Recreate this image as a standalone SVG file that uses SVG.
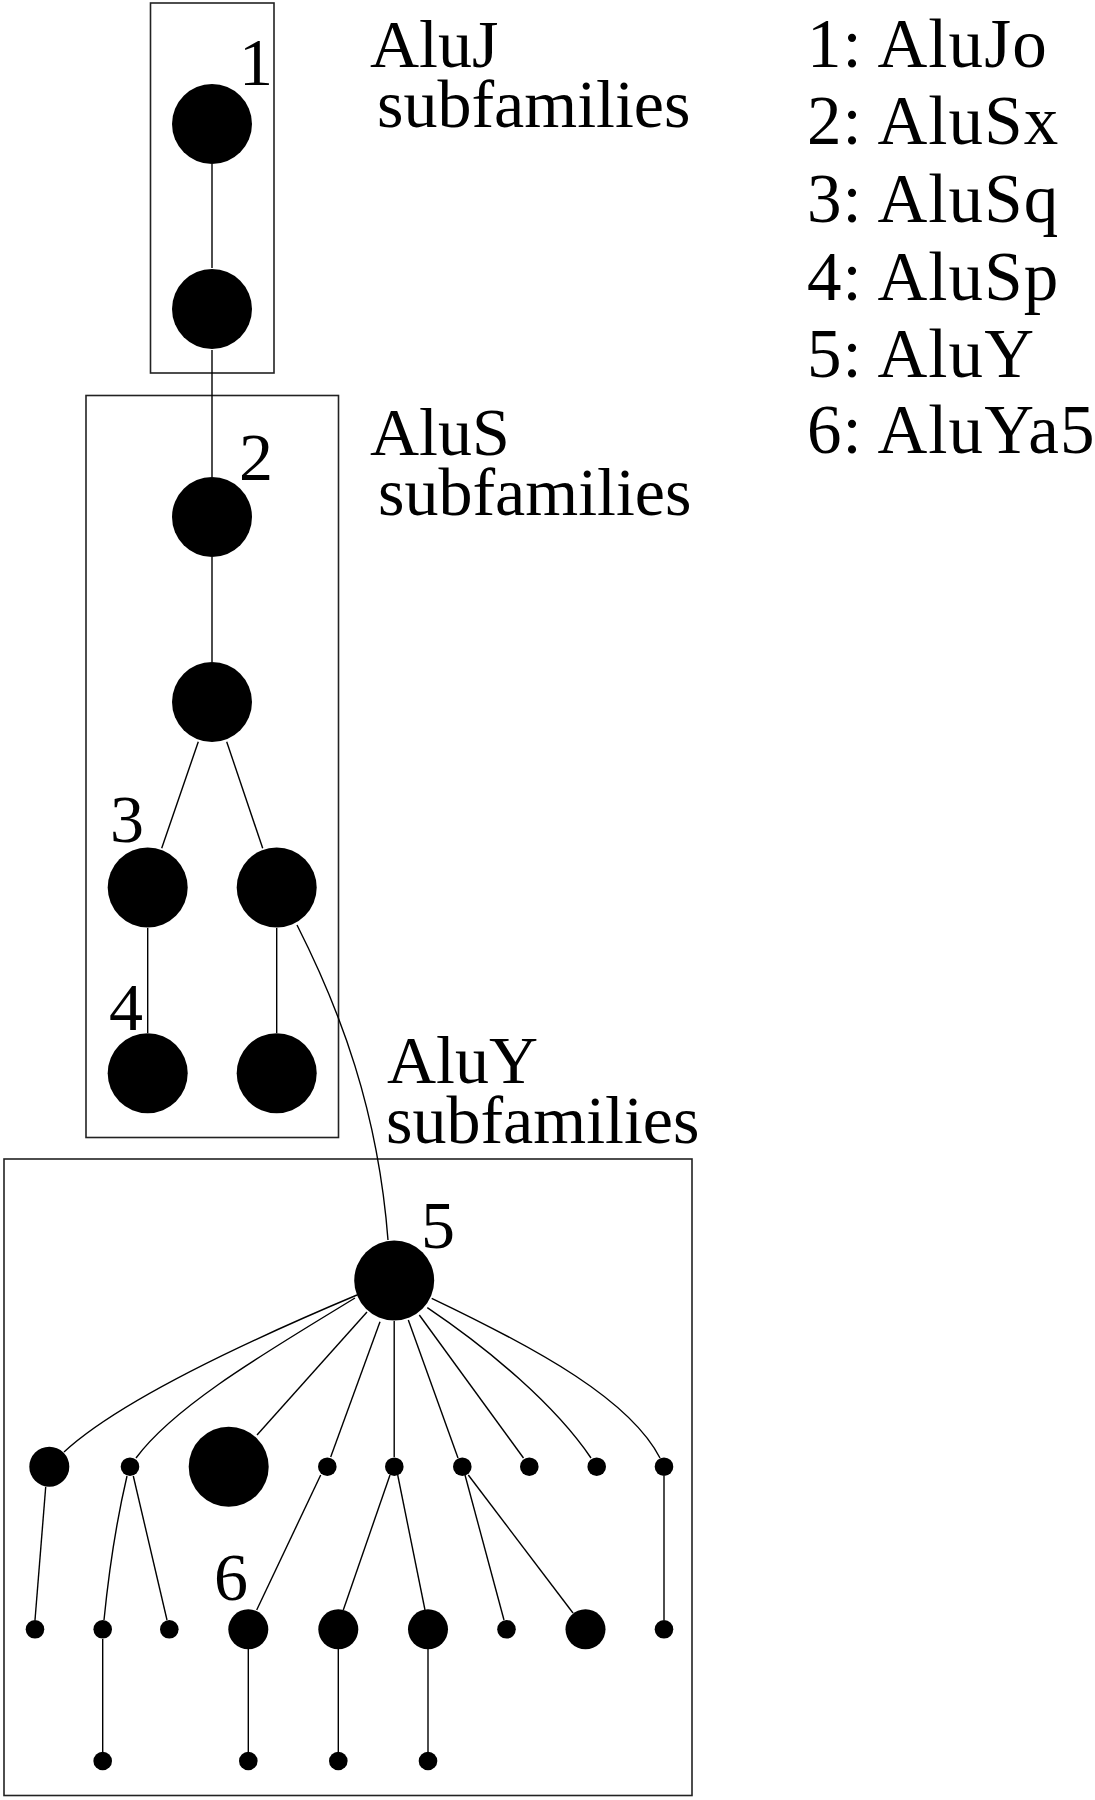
<svg xmlns="http://www.w3.org/2000/svg" width="1095" height="1800" viewBox="0 0 1095 1800">
<style>
.bg{fill:#fff}
.box{fill:none;stroke:#222;stroke-width:1.6}
.e{fill:none;stroke:#000;stroke-width:1.4}
.n{fill:#000}
.t{font-family:"Liberation Serif","Times New Roman",serif;font-size:68px;fill:#000}
.lg{font-family:"Liberation Serif","Times New Roman",serif;font-size:69px;letter-spacing:1.1px;fill:#000}
</style>
<rect class="bg" x="0" y="0" width="1095" height="1800"/>
<g id="clusters">
<rect id="box-aluj" class="box" x="150.5" y="3" width="123.5" height="370"/>
<rect id="box-alus" class="box" x="86" y="395.5" width="252.5" height="742"/>
<rect id="box-aluy" class="box" x="4" y="1159" width="688" height="636.5"/>
</g>
<g id="titles">
<text class="t" x="370" y="67">AluJ</text>
<text class="t" x="377" y="127">subfamilies</text>
<text class="t" x="370" y="455">AluS</text>
<text class="t" x="378" y="515">subfamilies</text>
<text class="t" x="387" y="1083">AluY</text>
<text class="t" x="386" y="1143">subfamilies</text>
</g>
<g id="legend">
<text class="lg" x="807" y="67">1: AluJo</text>
<text class="lg" x="807" y="144">2: AluSx</text>
<text class="lg" x="807" y="221.5">3: AluSq</text>
<text class="lg" x="807" y="299.5">4: AluSp</text>
<text class="lg" x="807" y="376.5">5: AluY</text>
<text class="lg" x="807" y="453">6: AluYa5</text>
</g>
<g id="connectors">
<path class="e" d="M212 164 L212 268"/>
<path class="e" d="M212 350 L212 477"/>
<path class="e" d="M212 557 L212 662"/>
<path class="e" d="M198.3 741.7 L161.7 848.3"/>
<path class="e" d="M226.7 741.7 L262.7 848.3"/>
<path class="e" d="M147.7 928 L147.7 1033"/>
<path class="e" d="M276.7 928 L276.7 1033"/>
<path class="e" d="M297 925 C340 1010 378 1110 388 1240"/>
<path class="e" d="M357 1295 C250 1340 120 1400 64 1452"/>
<path class="e" d="M355 1298 C270 1350 175 1405 136 1458"/>
<path class="e" d="M367 1312 L257 1435"/>
<path class="e" d="M380 1321.7 L330.7 1457"/>
<path class="e" d="M394.2 1321 L394.2 1457"/>
<path class="e" d="M408.3 1320 L458 1458"/>
<path class="e" d="M419.3 1315 L523.5 1458"/>
<path class="e" d="M427.3 1307.7 C490 1350 555 1405 591 1458"/>
<path class="e" d="M431.7 1298.3 C540 1350 630 1400 660 1458"/>
<path class="e" d="M45.7 1487 L35 1620"/>
<path class="e" d="M127 1476 Q112 1540 104 1620"/>
<path class="e" d="M133.3 1476 L167 1620"/>
<path class="e" d="M320.7 1475 L256.7 1610"/>
<path class="e" d="M390 1475 L343.3 1610"/>
<path class="e" d="M397.7 1475 L425 1610"/>
<path class="e" d="M465 1475 L504 1620"/>
<path class="e" d="M468.3 1475 L573 1613"/>
<path class="e" d="M664 1476 L664 1620"/>
<path class="e" d="M102.7 1639 L102.7 1752"/>
<path class="e" d="M248.3 1649 L248.3 1752"/>
<path class="e" d="M338.3 1649 L338.3 1752"/>
<path class="e" d="M428 1649 L428 1752"/>
</g>
<g id="node-alujo"><circle class="n" cx="212" cy="124" r="40"/><text class="t" x="239" y="85">1</text></g>
<g id="node-j2"><circle class="n" cx="212" cy="309" r="40"/></g>
<g id="node-alusx"><circle class="n" cx="212" cy="517" r="40"/><text class="t" x="239" y="480">2</text></g>
<g id="node-s2"><circle class="n" cx="212" cy="702" r="40"/></g>
<g id="node-alusq"><circle class="n" cx="147.7" cy="887.5" r="40"/><text class="t" x="110" y="842">3</text></g>
<g id="node-s4"><circle class="n" cx="276.7" cy="887.5" r="40"/></g>
<g id="node-alusp"><circle class="n" cx="147.7" cy="1073.3" r="40"/><text class="t" x="109" y="1030">4</text></g>
<g id="node-s6"><circle class="n" cx="276.7" cy="1073.3" r="40"/></g>
<g id="node-aluy"><circle class="n" cx="394.2" cy="1280.5" r="40"/><text class="t" x="421" y="1248">5</text></g>
<g id="node-y1a"><circle class="n" cx="49.3" cy="1466.7" r="20"/></g>
<g id="node-y1b"><circle class="n" cx="130" cy="1466.7" r="9.3"/></g>
<g id="node-y1c"><circle class="n" cx="228.7" cy="1466.7" r="40"/></g>
<g id="node-y1d"><circle class="n" cx="327.3" cy="1466.7" r="9.3"/></g>
<g id="node-y1e"><circle class="n" cx="394.3" cy="1466.7" r="9.3"/></g>
<g id="node-y1f"><circle class="n" cx="462.3" cy="1466.7" r="9.3"/></g>
<g id="node-y1g"><circle class="n" cx="529.3" cy="1466.7" r="9.3"/></g>
<g id="node-y1h"><circle class="n" cx="596.7" cy="1466.7" r="9.3"/></g>
<g id="node-y1i"><circle class="n" cx="664" cy="1466.7" r="9.3"/></g>
<g id="node-y2a"><circle class="n" cx="35" cy="1629.3" r="9.3"/></g>
<g id="node-y2b"><circle class="n" cx="102.7" cy="1629.3" r="9.3"/></g>
<g id="node-y2c"><circle class="n" cx="169.3" cy="1629.3" r="9.3"/></g>
<g id="node-aluya5"><circle class="n" cx="248.3" cy="1629.3" r="20"/><text class="t" x="214" y="1600">6</text></g>
<g id="node-y2e"><circle class="n" cx="338.3" cy="1629.3" r="20"/></g>
<g id="node-y2f"><circle class="n" cx="428" cy="1629.3" r="20"/></g>
<g id="node-y2g"><circle class="n" cx="506.5" cy="1629.3" r="9.3"/></g>
<g id="node-y2h"><circle class="n" cx="585.5" cy="1629.3" r="20"/></g>
<g id="node-y2i"><circle class="n" cx="664" cy="1629.3" r="9.3"/></g>
<g id="node-y3a"><circle class="n" cx="102.7" cy="1761" r="9.3"/></g>
<g id="node-y3b"><circle class="n" cx="248.3" cy="1761" r="9.3"/></g>
<g id="node-y3c"><circle class="n" cx="338.3" cy="1761" r="9.3"/></g>
<g id="node-y3d"><circle class="n" cx="428" cy="1761" r="9.3"/></g>
</svg>
